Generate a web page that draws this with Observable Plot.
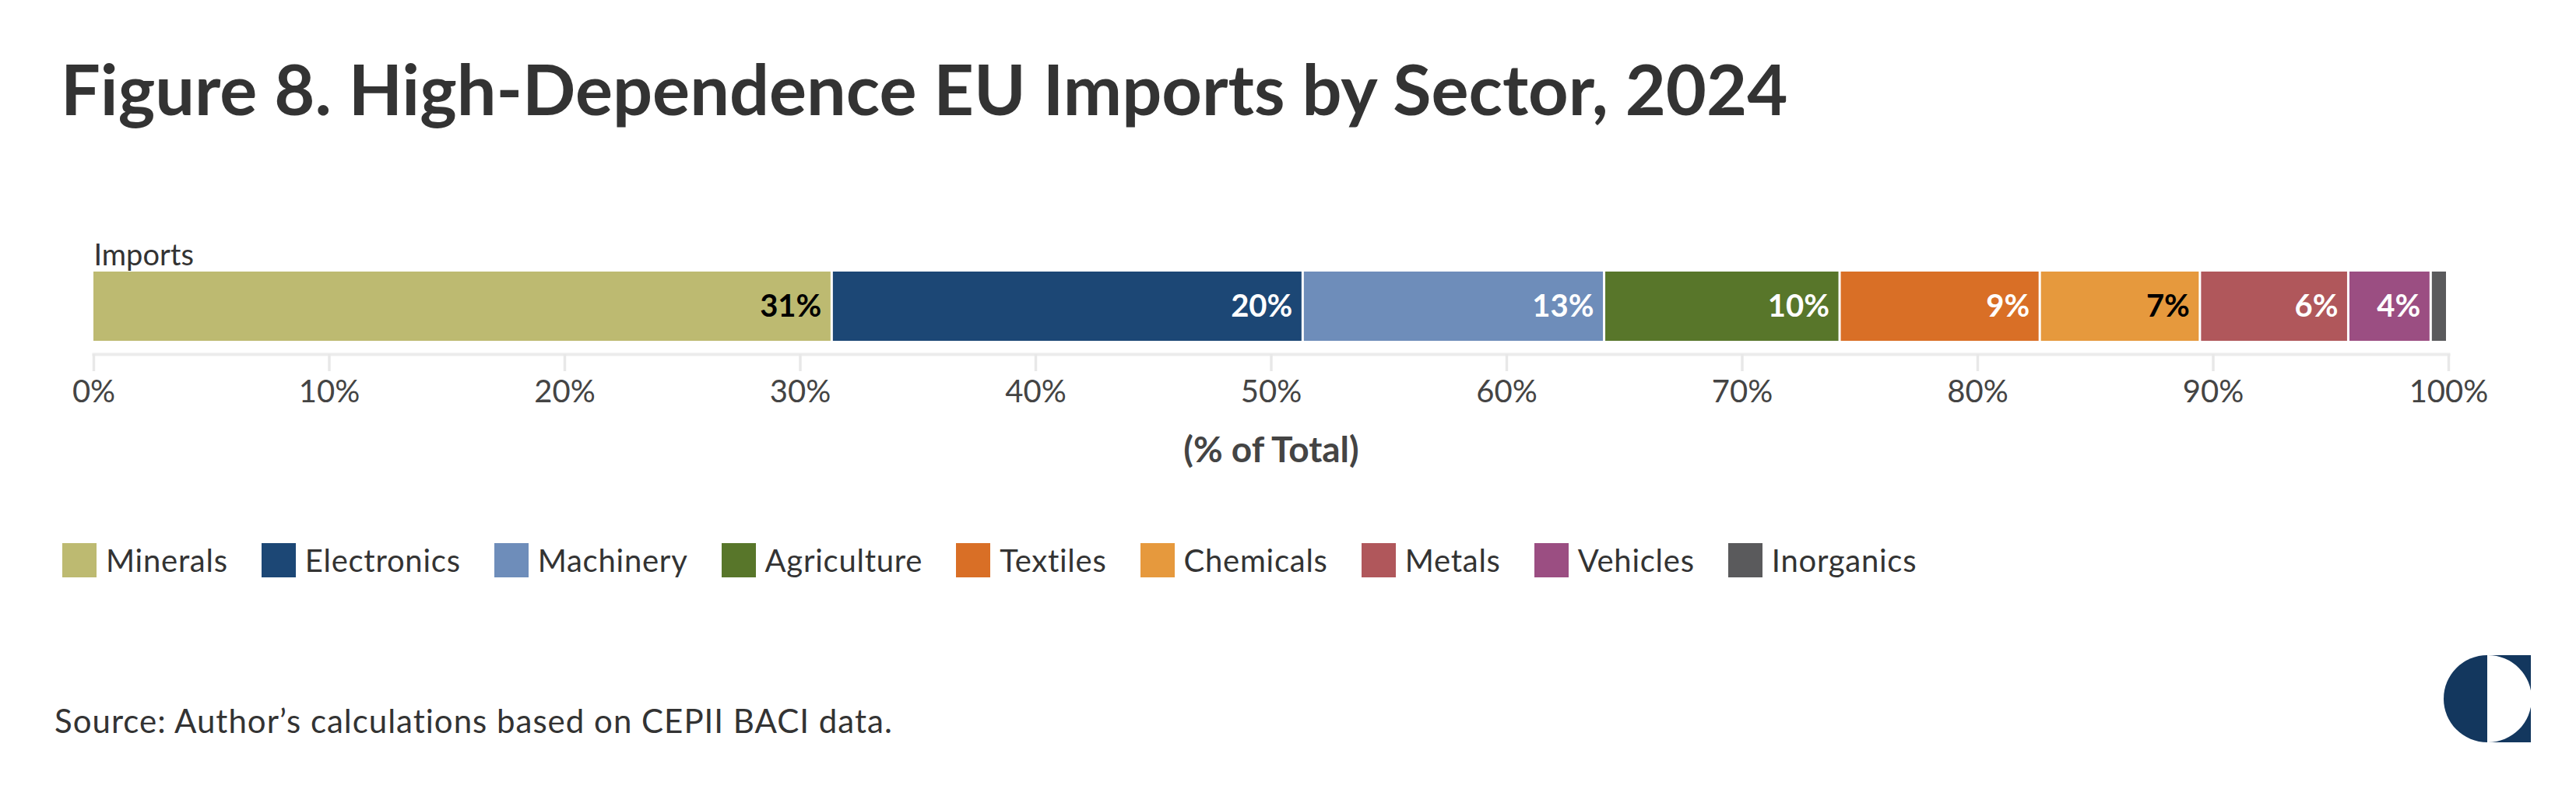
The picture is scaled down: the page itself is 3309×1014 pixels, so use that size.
<!DOCTYPE html>
<html>
<head>
<meta charset="utf-8">
<script src="https://cdn.jsdelivr.net/npm/d3@7"></script>
<script src="https://cdn.jsdelivr.net/npm/@observablehq/plot@0.6"></script>
<style>
  html, body { margin: 0; padding: 0; background: #fff; }
  body { width: 3309px; height: 1014px; position: relative; overflow: hidden; font-family: Lato, sans-serif; }
  .abs { position: absolute; white-space: nowrap; line-height: 1; }
  #title { left: 78px; top: 68px; font-size: 90px; font-weight: 700; color: #333; }
  #chart { left: 0; top: 280px; }
  #legend { left: 80px; top: 698px; }
  #legend .lg-swatches { margin: 0 !important; letter-spacing: 0.75px; }
  #legend .lg-swatch { margin-right: 43px !important; }
  #legend .lg-swatch > svg { margin-right: 12px !important; }
  #source { left: 70px; top: 905px; font-size: 42px; letter-spacing: 1px; color: #333; }
  #logo { left: 3139px; top: 842px; }
</style>
</head>
<body>
<div id="title" class="abs">Figure 8. High-Dependence EU Imports by Sector, 2024</div>
<div id="chart" class="abs"></div>
<div id="legend" class="abs"></div>
<div id="source" class="abs">Source: Author’s calculations based on CEPII BACI data.</div>
<svg id="logo" class="abs" width="112" height="112" viewBox="0 0 112 112">
  <path d="M56,0 A56,56 0 0 0 56,112 Z" fill="#13375e"/>
  <path d="M57,0 H112 V112 H57 A56,56 0 0 0 57,0 Z" fill="#13375e"/>
</svg>
<script>
const rowLabel = "Imports";
const categories = ["Minerals","Electronics","Machinery","Agriculture","Textiles","Chemicals","Metals","Vehicles","Inorganics"];
const shares = [31.4, 20.0, 12.8, 10.0, 8.5, 6.8, 6.3, 3.5, 0.7];
const colors = ["#bdba71","#1c4775","#6e8dba","#58762a","#d96f26","#e6993d","#b0575b","#9b4e82","#5a5a5c"];
const labelColors = ["#000","#fff","#fff","#fff","#fff","#000","#fff","#fff","#fff"];
const xTicks = [0,10,20,30,40,50,60,70,80,90,100];
const xLabel = "(% of Total)";

const data = categories.map((c, i) => ({sector: c, share: shares[i], row: rowLabel, lc: labelColors[i]}));

const chart = Plot.plot({
  width: 3309,
  height: 350,
  marginLeft: 120,
  marginRight: 164,
  marginTop: 69,
  marginBottom: 175,
  style: {fontFamily: "Lato, sans-serif", background: "transparent", overflow: "visible"},
  x: {domain: [0, 100]},
  y: {domain: [rowLabel], padding: 0, axis: null},
  color: {domain: categories, range: colors},
  marks: [
    Plot.frame({anchor: "bottom", stroke: "#ececec", strokeWidth: 4}),
    Plot.axisX({ticks: xTicks, tickFormat: d => d + "%", tickSize: 22, tickPadding: 11,
      fontSize: 40, stroke: "#e8e8e8", strokeWidth: 3.5, fill: "#444", label: null}),
    Plot.barX(data, Plot.stackX({x: "share", y: "row", fill: "sector", insetBottom: 17, insetRight: 3})),
    Plot.text(data, Plot.stackX2({x: "share", y: "row", z: "sector",
      text: d => d.share >= 1 ? Math.round(d.share) + "%" : "",
      fill: "lc", textAnchor: "end", dx: -15, dy: -8.5, fontSize: 40, fontWeight: 700})),
    Plot.text([rowLabel], {x: 0, y: d => d, text: d => d, textAnchor: "start", dy: -74,
      fontSize: 38, fill: "#333", style: "letter-spacing:1px"}),
    Plot.text([xLabel], {frameAnchor: "bottom", text: d => d, dy: 138, fontSize: 46, fontWeight: 700,
      fill: "#444", style: "letter-spacing:1.5px"})
  ]
});
document.getElementById("chart").appendChild(chart);

const legend = Plot.legend({
  color: {domain: categories, range: colors},
  legend: "swatches",
  swatchSize: 44,
  className: "lg",
  style: {fontSize: "40px", fontFamily: "Lato, sans-serif", color: "#333"}
});
document.getElementById("legend").appendChild(legend);
</script>
</body>
</html>
